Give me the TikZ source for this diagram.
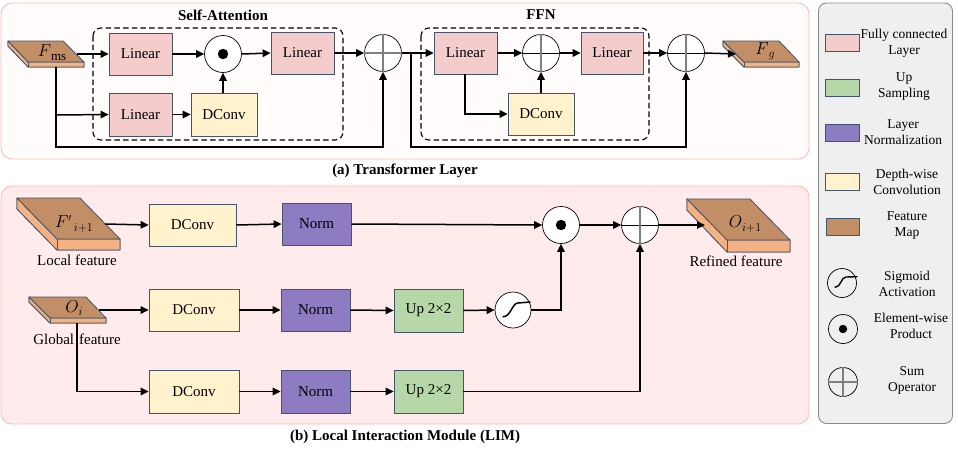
\documentclass[tikz,border=0pt]{standalone}
\usepackage{fontspec}
\setmainfont{Liberation Serif}
\usetikzlibrary{arrows.meta,calc}
\definecolor{edgeblue}{HTML}{44546A}
\definecolor{cpink}{HTML}{F4CCCC}
\definecolor{cgreen}{HTML}{B6D7A8}
\definecolor{cpurple}{HTML}{8E7CC3}
\definecolor{cyellow}{HTML}{FFF2CC}
\definecolor{cbrown}{HTML}{C28E66}
\definecolor{corange}{HTML}{F4B183}
\definecolor{panelline}{HTML}{FFB9B2}
\definecolor{panelA}{HTML}{FFFCFB}
\definecolor{panelB}{HTML}{FFEBEB}
\definecolor{legendfill}{HTML}{EFEFEF}
\definecolor{legendline}{HTML}{8A8A8A}
\definecolor{opgray}{HTML}{7F7F7F}
\tikzset{
  x=1pt,y=-1pt,
  block/.style={draw=edgeblue,line width=0.8pt,inner sep=0pt,font=\fontsize{15}{17}\selectfont},
  pinkblock/.style={block,fill=cpink},
  greenblock/.style={block,fill=cgreen},
  purpleblock/.style={block,fill=cpurple},
  yellowblock/.style={block,fill=cyellow},
  opcircle/.style={circle,draw=black,line width=0.7pt,fill=white,inner sep=0pt,minimum size=37pt},
  legcircle/.style={circle,draw=black,line width=0.7pt,inner sep=0pt,minimum size=29pt},
  conn/.style={line width=1.5pt,draw=black},
  arr/.style={conn,-{Triangle[length=8pt,width=7.5pt]}},
  dashbox/.style={draw=black,line width=1.1pt,dash pattern=on 5.5pt off 3.2pt,rounded corners=8pt},
  panel/.style={draw=panelline,line width=0.8pt,rounded corners=11pt},
  title/.style={font=\fontsize{15}{17}\bfseries\selectfont,inner sep=0pt},
  plain/.style={font=\fontsize{15}{17}\selectfont,inner sep=0pt},
  legtext/.style={font=\fontsize{13.5}{16}\selectfont,align=center,inner sep=0pt},
  legswatch/.style={draw=edgeblue,line width=0.9pt},
  topface/.style={draw=edgeblue,line width=0.8pt,fill=cbrown,line join=round},
  sideface/.style={draw=edgeblue,line width=0.8pt,fill=corange,line join=round},
}
% name, style, x1, y1, x2, y2, text
\newcommand{\blockat}[7]{\node[#2,minimum width={(#5)-(#3)},minimum height={(#6)-(#4)}] (#1) at ({((#3)+(#5))/2},{((#4)+(#6))/2}) {#7};}
% x-left,y-top, x-topright, x-right, y-front, y-bottom, x-frontleft, y-leftbottom
\newcommand{\featuremap}[8]{%
  \fill[sideface] (#1,#2) -- (#7,#5) -- (#4,#5) -- (#4,#6) -- (#7,#6) -- (#1,#8) -- cycle;
  \draw[sideface] (#1,#2) -- (#7,#5) -- (#4,#5) -- (#4,#6) -- (#7,#6) -- (#1,#8) -- cycle;
  \draw[sideface] (#7,#5) -- (#7,#6);
  \draw[topface] (#1,#2) -- (#3,#2) -- (#4,#5) -- (#7,#5) -- cycle;
}
% name, x, y, horizontal style
\newcommand{\sumat}[4]{%
  \node[opcircle] (#1) at (#2,#3) {};
  \draw[#4] (#1.west) -- (#1.east);
  \draw[opgray,line width=1.4pt] (#1.north) -- (#1.south);
}
\newcommand{\dotat}[3]{%
  \node[opcircle] (#1) at (#2,#3) {};
  \fill[black] (#1) circle (5.2);
}
% big letter, subscript: letter in math italics, subscript set large as printed
\newcommand{\bigsym}[3]{{\fontsize{#1}{#1}\selectfont$#2$}\raisebox{-3.5pt}{\fontsize{11.5}{12}\selectfont#3}}
\begin{document}
\begin{tikzpicture}
\useasboundingbox (0,0) rectangle (958,455);
\fill[white] (0,0) rectangle (958,455);

% panels
\draw[panel,fill=panelA] (1,3) rectangle (809,159);
\draw[panel,fill=panelB] (1,186) rectangle (809,424);
\draw[draw=legendline,line width=0.9pt,fill=legendfill,rounded corners=8pt] (818.5,3) rectangle (952.5,423.5);

% ---------- (a)
\draw[dashbox] (93,28) rectangle (343,140);
\draw[dashbox] (421,28) rectangle (649,140);
\node[title] (tsa) at (223,15) {Self-Attention};
\node[title] (tffn) at (541,15) {FFN};
\node[title] (capa) at (405,171) {(a) Transformer Layer};

\featuremap{8}{41}{63}{84}{62}{67}{28}{46}
\node[inner sep=0pt] (fms) at (52,52.5) {\bigsym{18}{F}{\fontsize{13}{13}\selectfont ms}};
\coordinate (fmsout) at (77,54);
\coordinate (fmsdown) at (56,67);

\blockat{la1}{pinkblock}{109}{33}{172}{75}{Linear}
\blockat{la2}{pinkblock}{109}{93}{172}{136}{Linear}
\blockat{da1}{yellowblock}{191}{93}{257}{136}{DConv}
\dotat{pa1}{223}{54}
\blockat{la3}{pinkblock}{271}{32}{334}{74}{Linear}
\sumat{sa1}{383}{53}{opgray,line width=1.4pt}

\blockat{la4}{pinkblock}{434}{32}{497}{74}{Linear}
\sumat{sa2}{541}{53}{black,line width=0.8pt}
\blockat{la5}{pinkblock}{581}{32}{643}{74}{Linear}
\blockat{da2}{yellowblock}{508}{93}{574}{135}{DConv}
\sumat{sa3}{686}{53}{black,line width=0.8pt}

\featuremap{723}{41}{779}{799}{62}{67}{744}{46}
\node[inner sep=0pt] (fg) at (765,51.5) {\bigsym{18}{F}{$g$}};
\coordinate (fgin) at (736,54);

\draw[arr] (fmsout) -- (la1.west);
\draw[arr] (fmsdown) -- (56,147) -| (sa1.south);
\draw[arr] (56,115) -- (la2.west);
\draw[arr] (la2.east) -- (da1.west);
\draw[arr] (da1.north -| pa1) -- (pa1.south);
\draw[arr] (la1.east) -- (pa1.west);
\draw[arr] (pa1.east) -- (la3.west);
\draw[arr] (la3.east) -- (sa1.west);
\draw[arr] (sa1.east) -- (la4.west);
\coordinate (ffnsplit) at (411,53);
\draw[arr] (ffnsplit) -- (411,147) -| (sa3.south);
\draw[arr] (la4.east) -- (sa2.west);
\draw[arr] (sa2.east) -- (la5.west);
\draw[arr] (la5.east) -- (sa3.west);
\draw[arr] (465,74) |- (da2.west);
\draw[arr] (da2.north -| sa2) -- (sa2.south);
\draw[arr] (sa3.east) -- (fgin);

% ---------- (b)
\node[title] (capb) at (405,437) {(b) Local Interaction Module (LIM)};

\featuremap{17}{198}{80}{120}{239}{250}{57}{209}
\node[inner sep=0pt] (fi) at (74,224) {\bigsym{16}{F'}{\,$i{+}1$}};
\coordinate (fiout) at (105,224);
\node[plain] (tlocal) at (77,260) {Local feature};

\featuremap{29}{297}{86}{106}{318}{323}{50}{302}
\node[inner sep=0pt] (oi) at (74,308) {\bigsym{16}{O}{$i$}};
\coordinate (oiout) at (99,310);
\coordinate (oidown) at (77,323);
\node[plain] (tglobal) at (77,339) {Global\hspace{5pt}feature};

\featuremap{687}{199}{750}{790}{240}{252}{727}{210}
\node[inner sep=0pt] (oo) at (745,224) {\bigsym{16}{O}{$i{+}1$}};
\coordinate (ooin) at (705,225);
\node[plain] (trefined) at (736,261) {Refined feature};

\blockat{db1}{yellowblock}{149}{204}{236}{246}{DConv}
\blockat{nb1}{purpleblock}{282}{203}{351}{245}{Norm}
\dotat{pb1}{561}{225}
\sumat{sb1}{640}{225}{black,line width=0.8pt}

\blockat{db2}{yellowblock}{149}{289}{239}{331}{DConv}
\blockat{nb2}{purpleblock}{281}{289}{350}{331}{Norm}
\blockat{ub1}{greenblock}{394}{289}{463}{332}{Up 2×2}
\node[opcircle,minimum size=36pt] (sg) at (513,310) {};
\draw[line width=1.5pt,line cap=round] ($(sg)+(-10,6.7)$) .. controls ($(sg)+(-2,6.7)$) and ($(sg)+(-1,-7)$) .. ($(sg)+(5,-7)$) -- ($(sg)+(17,-8)$);

\blockat{db3}{yellowblock}{149}{370}{239}{413}{DConv}
\blockat{nb3}{purpleblock}{281}{370}{350}{413}{Norm}
\blockat{ub2}{greenblock}{394}{370}{463}{413}{Up 2×2}

\draw[arr] (fiout) -- (db1.west);
\draw[arr] (db1.east) -- (nb1.west);
\draw[arr] (nb1.east) -- (pb1.west);
\draw[arr] (pb1.east) -- (sb1.west);
\draw[arr] (sb1.east) -- (ooin);
\draw[arr] (oiout) -- (db2.west);
\draw[arr] (db2.east) -- (nb2.west);
\draw[arr] (nb2.east) -- (ub1.west);
\draw[arr] (ub1.east) -- (sg.west);
\draw[arr] (sg.east) -| (pb1.south);
\draw[arr] (oidown) |- (db3.west);
\draw[arr] (db3.east) -- (nb3.west);
\draw[arr] (nb3.east) -- (ub2.west);
\draw[arr] (ub2.east) -| (sb1.south);

% ---------- legend
\draw[legswatch,fill=cpink] (825.5,34.5) rectangle (859.5,51.5);
\draw[legswatch,fill=cgreen] (825.5,79.5) rectangle (859.5,96.5);
\draw[legswatch,fill=cpurple] (825.5,124.5) rectangle (859.5,141.5);
\draw[legswatch,fill=cyellow] (825.5,173.5) rectangle (859.5,190.5);
\draw[legswatch,fill=cbrown] (826.5,218.5) rectangle (859.5,235.5);

\node[legtext] (l1) at (904,43) {Fully connected\\Layer};
\node[legtext] (l2) at (904,87) {Up\\Sampling};
\node[legtext] (l3) at (903,132) {Layer\\Normalization};
\node[legtext] (l4) at (907,182) {Depth-wise\\Convolution};
\node[legtext] (l5) at (907,226) {Feature\\Map};
\node[legtext] (l6) at (907,284) {Sigmoid\\Activation};
\node[legtext] (l7) at (911,326) {Element-wise\\Product};
\node[legtext] (l8) at (912,380) {Sum\\Operator};

\node[legcircle] (ls) at (842,283) {};
\draw[line width=1.4pt,line cap=round] ($(ls)+(-7,4.3)$) .. controls ($(ls)+(-1,4.3)$) and ($(ls)+(-1,-6)$) .. ($(ls)+(4,-6)$) -- ($(ls)+(15,-6.3)$);
\node[legcircle] (lp) at (843,329) {};
\fill[black] (lp) circle (4.2);
\node[legcircle] (la) at (843,382) {};
\draw[opgray,line width=1.3pt] (la.west) -- (la.east);
\draw[opgray,line width=1.3pt] (la.north) -- (la.south);
\end{tikzpicture}
\end{document}
